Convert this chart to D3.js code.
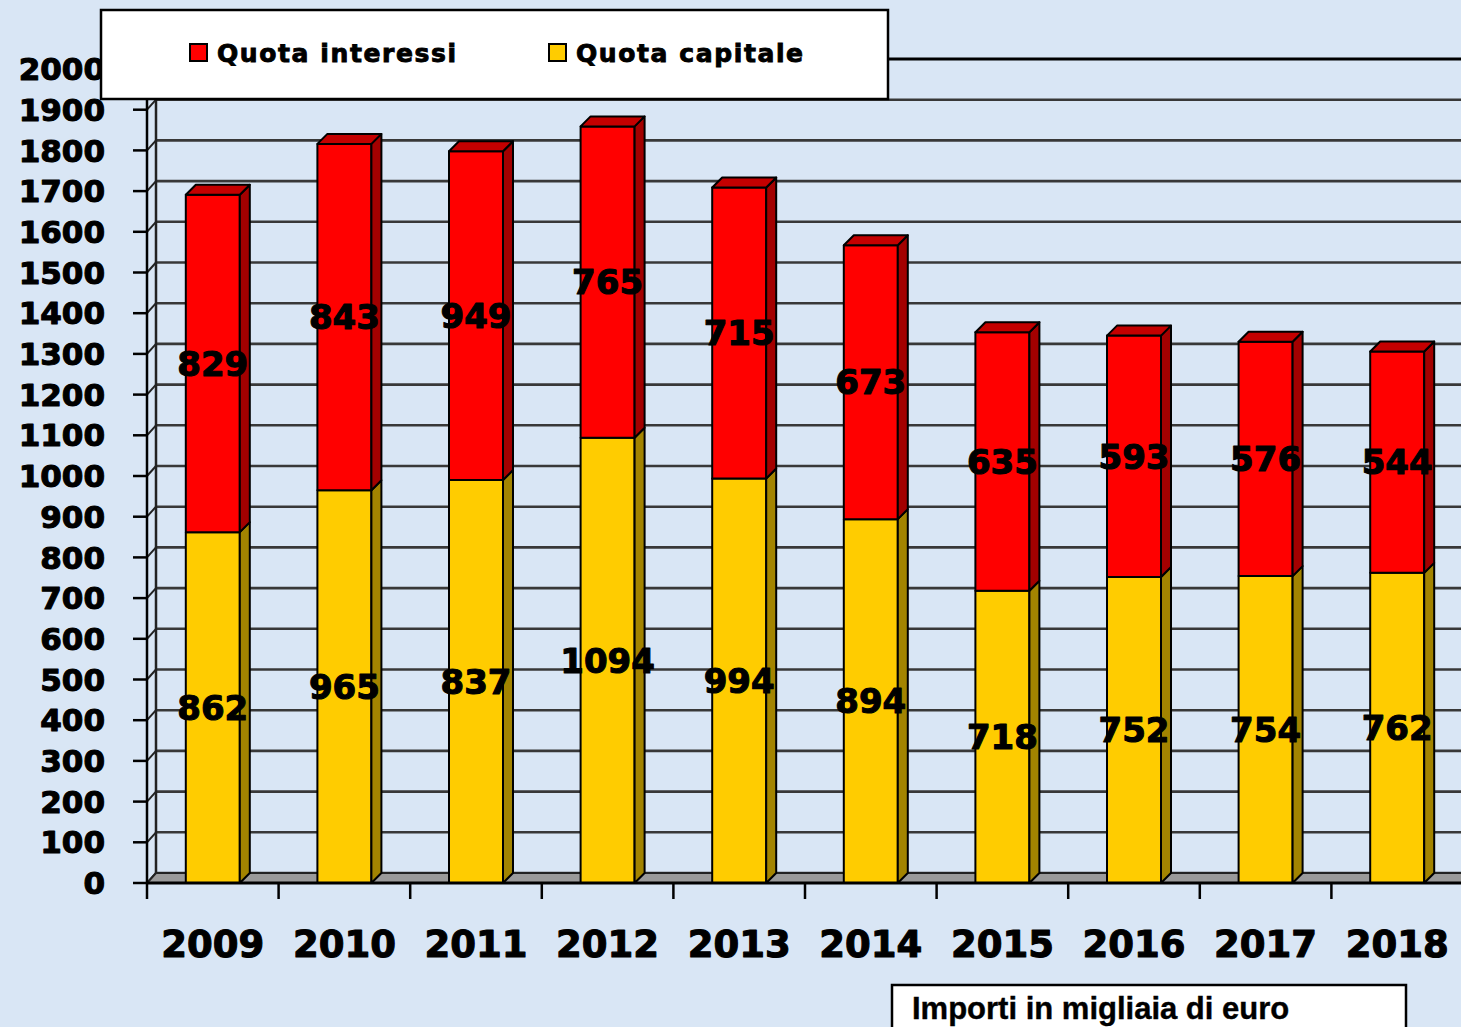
<!DOCTYPE html>
<html>
<head>
<meta charset="utf-8">
<script src="https://cdn.jsdelivr.net/npm/d3@7"></script>
<style>
html,body{margin:0;padding:0;background:#d9e6f5;}
svg{display:block;}
</style>
</head>
<body>
<svg id="chart" width="1461" height="1027"></svg>
<script>
const years = ["2009","2010","2011","2012","2013","2014","2015","2016","2017","2018"];
const capitale = [862, 965, 990, 1094, 994, 894, 718, 752, 754, 762];
const interessi = [829, 851, 808, 765, 715, 673, 635, 593, 576, 544];
const capitaleLabels = ["862","965","837","1094","994","894","718","752","754","762"];
const interessiLabels = ["829","843","949","765","715","673","635","593","576","544"];
const yTicks = d3.range(0, 2001, 100);
const seriesNames = ["Quota interessi", "Quota capitale"];
const noteText = "Importi in migliaia di euro";

const W = 1461, H = 1027;
const svg = d3.select("#chart");

svg.append("rect").attr("width", W).attr("height", H).attr("fill", "#d9e6f5");

const x = d3.scaleBand().domain(years).range([147, 1463]).padding(0);
const y = d3.scaleLinear().domain([0, 2000]).range([883, 69]);
const wallDX = 9, wallDY = -10;
const barDX = 10, barDY = -10;
const barW = 54;

const g = svg.append("g");
g.selectAll("line.grid").data(yTicks).join("line")
  .attr("class","grid")
  .attr("x1", 147 + wallDX).attr("x2", W)
  .attr("y1", d => y(d) + wallDY).attr("y2", d => y(d) + wallDY)
  .attr("stroke", d => d === 2000 ? "#000" : "#383838")
  .attr("stroke-width", d => d === 2000 ? 3 : 2.6);

g.append("line").attr("x1", 147 + wallDX).attr("x2", 147 + wallDX)
  .attr("y1", y(2000) + wallDY).attr("y2", y(0) + wallDY)
  .attr("stroke", "#222").attr("stroke-width", 2.5);
g.selectAll("line.diag").data(yTicks).join("line")
  .attr("class","diag")
  .attr("x1", 147).attr("x2", 147 + wallDX)
  .attr("y1", d => y(d)).attr("y2", d => y(d) + wallDY)
  .attr("stroke", "#222").attr("stroke-width", 2);

g.append("polygon")
  .attr("points", [[147, y(0)], [1463, y(0)], [1463 + wallDX, y(0) + wallDY], [147 + wallDX, y(0) + wallDY]].map(p => p.join(",")).join(" "))
  .attr("fill", "#9a9a9a").attr("stroke", "#222").attr("stroke-width", 2);

function face(sel, pts, fill) {
  sel.append("polygon").attr("points", pts.map(p => p.join(",")).join(" "))
    .attr("fill", fill).attr("stroke", "#000").attr("stroke-width", 2).attr("stroke-linejoin", "round");
}
const bars = svg.append("g");
years.forEach((yr, i) => {
  const cx = x(yr) + x.bandwidth() / 2;
  const x0 = cx - barW / 2, x1 = cx + barW / 2;
  const y0 = y(0), yc = y(capitale[i]), yt = y(capitale[i] + interessi[i]);
  const b = bars.append("g");
  face(b, [[x0, y0], [x1, y0], [x1, yc], [x0, yc]], "#ffcc00");
  face(b, [[x1, y0], [x1 + barDX, y0 + barDY], [x1 + barDX, yc + barDY], [x1, yc]], "#a38400");
  face(b, [[x0, yc], [x1, yc], [x1, yt], [x0, yt]], "#ff0000");
  face(b, [[x1, yc], [x1 + barDX, yc + barDY], [x1 + barDX, yt + barDY], [x1, yt]], "#a30000");
  face(b, [[x0, yt], [x1, yt], [x1 + barDX, yt + barDY], [x0 + barDX, yt + barDY]], "#c40000");
});

svg.append("line").attr("x1", 147).attr("x2", W).attr("y1", y(0)).attr("y2", y(0))
  .attr("stroke", "#000").attr("stroke-width", 3);
svg.append("line").attr("x1", 147).attr("x2", 147).attr("y1", y(2000)).attr("y2", y(0))
  .attr("stroke", "#000").attr("stroke-width", 2.5);
svg.selectAll("line.xtick").data(years).join("line")
  .attr("class","xtick")
  .attr("x1", d => x(d)).attr("x2", d => x(d))
  .attr("y1", y(0)).attr("y2", y(0) + 16)
  .attr("stroke", "#000").attr("stroke-width", 2.5);
svg.selectAll("line.ytick").data(yTicks).join("line")
  .attr("class","ytick")
  .attr("x1", 133).attr("x2", 147)
  .attr("y1", d => y(d)).attr("y2", d => y(d))
  .attr("stroke", "#000").attr("stroke-width", 2.5);

const heavy = sel => sel.attr("stroke", "#000").attr("stroke-width", 1.1).attr("stroke-linejoin", "round");

const lab = svg.append("g").attr("font-family", "DejaVu Sans, Verdana, sans-serif")
  .attr("font-weight", "bold").attr("font-size", 34).attr("fill", "#000")
  .attr("text-anchor", "middle").call(heavy);
years.forEach((yr, i) => {
  const cx = x(yr) + x.bandwidth() / 2;
  lab.append("text").attr("x", cx).attr("y", y(capitale[i] / 2))
    .attr("dy", "0.36em").text(capitaleLabels[i]);
  lab.append("text").attr("x", cx).attr("y", y(capitale[i] + interessi[i] / 2))
    .attr("dy", "0.36em").text(interessiLabels[i]);
});

svg.append("g").attr("font-family", "DejaVu Sans, Verdana, sans-serif")
  .attr("font-weight", "bold").attr("font-size", 31).attr("text-anchor", "end").call(heavy)
  .selectAll("text").data(yTicks).join("text")
  .attr("x", 105).attr("y", d => y(d)).attr("dy", "0.36em").text(d => d);

svg.append("g").attr("font-family", "DejaVu Sans, Verdana, sans-serif")
  .attr("font-weight", "bold").attr("font-size", 37).attr("text-anchor", "middle").call(heavy)
  .selectAll("text").data(years).join("text")
  .attr("x", d => x(d) + x.bandwidth() / 2).attr("y", 957).text(d => d);

const leg = svg.append("g");
leg.append("rect").attr("x", 101).attr("y", 10).attr("width", 787).attr("height", 89)
  .attr("fill", "#fff").attr("stroke", "#000").attr("stroke-width", 2.5);
const legItems = [
  {name: seriesNames[0], color: "#ff0000", x: 190},
  {name: seriesNames[1], color: "#ffcc00", x: 549}
];
legItems.forEach(it => {
  leg.append("rect").attr("x", it.x).attr("y", 44).attr("width", 17).attr("height", 17)
    .attr("fill", it.color).attr("stroke", "#000").attr("stroke-width", 2);
  leg.append("text").attr("x", it.x + 27).attr("y", 62)
    .attr("font-family", "DejaVu Sans, Verdana, sans-serif").attr("font-weight", "bold")
    .attr("font-size", 25).attr("letter-spacing", 1.6)
    .attr("stroke", "#000").attr("stroke-width", 0.9).text(it.name);
});

svg.append("rect").attr("x", 892).attr("y", 985).attr("width", 514).attr("height", 60)
  .attr("fill", "#fff").attr("stroke", "#000").attr("stroke-width", 2.5);
svg.append("text").attr("x", 912).attr("y", 1019)
  .attr("font-family", "Liberation Sans, Arial, sans-serif").attr("font-weight", "bold")
  .attr("font-size", 31).attr("stroke", "#000").attr("stroke-width", 0.4).text(noteText);
</script>
</body>
</html>
